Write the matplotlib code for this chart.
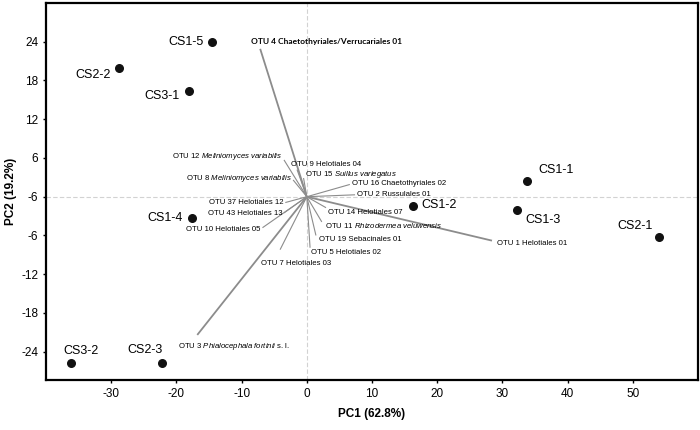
import matplotlib
matplotlib.use("Agg")
import matplotlib.pyplot as plt

plt.rcParams["font.family"] = ["Liberation Sans", "DejaVu Sans"]
plt.rcParams["mathtext.fontset"] = "custom"
plt.rcParams["mathtext.rm"] = "Liberation Sans"
plt.rcParams["mathtext.it"] = "Liberation Sans:italic"
plt.rcParams["axes.unicode_minus"] = False

# sample scores
samples = ["CS1-5", "CS2-2", "CS3-1", "CS1-4", "CS3-2", "CS2-3",
           "CS1-2", "CS1-1", "CS1-3", "CS2-1"]
sample_pc1 = [-14.5, -28.8, -18.0, -17.6, -36.1, -22.2, 16.3, 33.8, 32.3, 54.0]
sample_pc2 = [23.9, 20.0, 16.4, -3.3, -25.8, -25.7, -1.5, 2.4, -2.1, -6.3]

# OTU vectors (arrow tips)
otus = [
    "OTU 4 Chaetothyriales/Verrucariales 01",
    r"OTU 12 $\it{Meliniomyces\ variabilis}$",
    "OTU 9 Helotiales 04",
    r"OTU 8 $\it{Meliniomyces\ variabilis}$",
    r"OTU 15 $\it{Suillus\ variegatus}$",
    "OTU 16 Chaetothyriales 02",
    "OTU 2 Russulales 01",
    "OTU 37 Helotiales 12",
    "OTU 43 Helotiales 13",
    "OTU 10 Helotiales 05",
    "OTU 14 Helotiales 07",
    r"OTU 11 $\it{Rhizodermea\ veluwensis}$",
    "OTU 19 Sebacinales 01",
    "OTU 5 Helotiales 02",
    "OTU 7 Helotiales 03",
    "OTU 1 Helotiales 01",
    r"OTU 3 $\it{Phialocephala\ fortinii}$ s. l.",
]
otu_pc1 = [-7.15, -3.5, -1.5, -2.1, -0.5, 6.6, 7.4, -3.3, -3.5, -6.8,
           2.95, 2.3, 1.4, 0.5, -4.1, 28.4, -16.8]
otu_pc2 = [22.9, 5.7, 4.2, 2.6, 2.9, 1.9, 0.3, -0.9, -2.5, -4.8,
           -1.7, -3.9, -6.0, -7.9, -8.2, -6.8, -21.4]

yticks = [24, 18, 12, 6, 0, -6, -12, -18, -24]
ytick_labels = ["24", "18", "12", "6", "-6", "-6", "-12", "-18", "-24"]
xticks = [-30, -20, -10, 0, 10, 20, 30, 40, 50]

# label layout (x, y, ha) in axis units
otu_label_pos = [
    (-8.6, 24.0, "left"), (-3.8, 6.3, "right"), (-2.4, 5.0, "left"),
    (-2.25, 2.8, "right"), (-0.26, 3.4, "left"), (6.9, 2.0, "left"),
    (7.7, 0.3, "left"), (-3.6, -0.9, "right"), (-3.8, -2.6, "right"),
    (-7.15, -5.1, "right"), (3.3, -2.5, "left"), (2.8, -4.5, "left"),
    (1.9, -6.7, "left"), (0.66, -8.7, "left"), (-7.0, -10.4, "left"),
    (29.1, -7.3, "left"), (-19.7, -23.2, "left"),
]
sample_label_off = [
    (-6, 0, "right", "center"), (-6, -5, "right", "center"), (-7, -4, "right", "center"),
    (-7, 0, "right", "center"), (7, 9, "center", "center"), (-12, 9, "center", "center"),
    (6, 1, "left", "center"), (8, 8, "left", "center"), (6, -7, "left", "center"),
    (-17, 8, "center", "center"),
]

fig = plt.figure(figsize=(7, 4.3), dpi=100)
ax = fig.add_axes([0.0657, 0.116, 0.9315, 0.877])
ax.set_xlim(-40, 60)
ax.set_ylim(-28.4, 30)

ax.axhline(0, color="#d2d2d2", lw=0.8, ls=(0, (4, 2)), zorder=0)
ax.axvline(0, color="#d2d2d2", lw=0.8, ls=(0, (4, 2)), zorder=0)

big = {0, 15, 16}
for i, name in enumerate(otus):
    lw = 1.3 if i in big else 0.8
    ax.plot([0, otu_pc1[i]], [0, otu_pc2[i]], color="#8c8c8c", lw=lw, zorder=1,
            solid_capstyle="butt")
    lx, ly, ha = otu_label_pos[i]
    if i == 0:
        ax.text(lx, ly, name, ha=ha, va="center", fontsize=6.0,
                fontfamily=["Lato", "DejaVu Sans"], fontweight="bold")
    else:
        ax.text(lx, ly, name, ha=ha, va="center", fontsize=5.6)

ax.scatter(sample_pc1, sample_pc2, s=30, color="#111111", zorder=3)
for i, name in enumerate(samples):
    dx, dy, ha, va = sample_label_off[i]
    ax.annotate(name, (sample_pc1[i], sample_pc2[i]), xytext=(dx, dy),
                textcoords="offset points", ha=ha, va=va, fontsize=9)

ax.set_xticks(xticks)
ax.set_yticks(yticks)
ax.set_yticklabels(ytick_labels)
ax.tick_params(labelsize=8.5, length=2.5, width=1.0, direction="out", pad=3)
for sp in ax.spines.values():
    sp.set_linewidth(1.6)

ax.set_xlabel("PC1 (62.8%)", fontsize=8.5, fontweight="bold", labelpad=6)
ax.set_ylabel("PC2 (19.2%)", fontsize=8.5, fontweight="bold", labelpad=3)

fig.savefig("out.png", dpi=100)
